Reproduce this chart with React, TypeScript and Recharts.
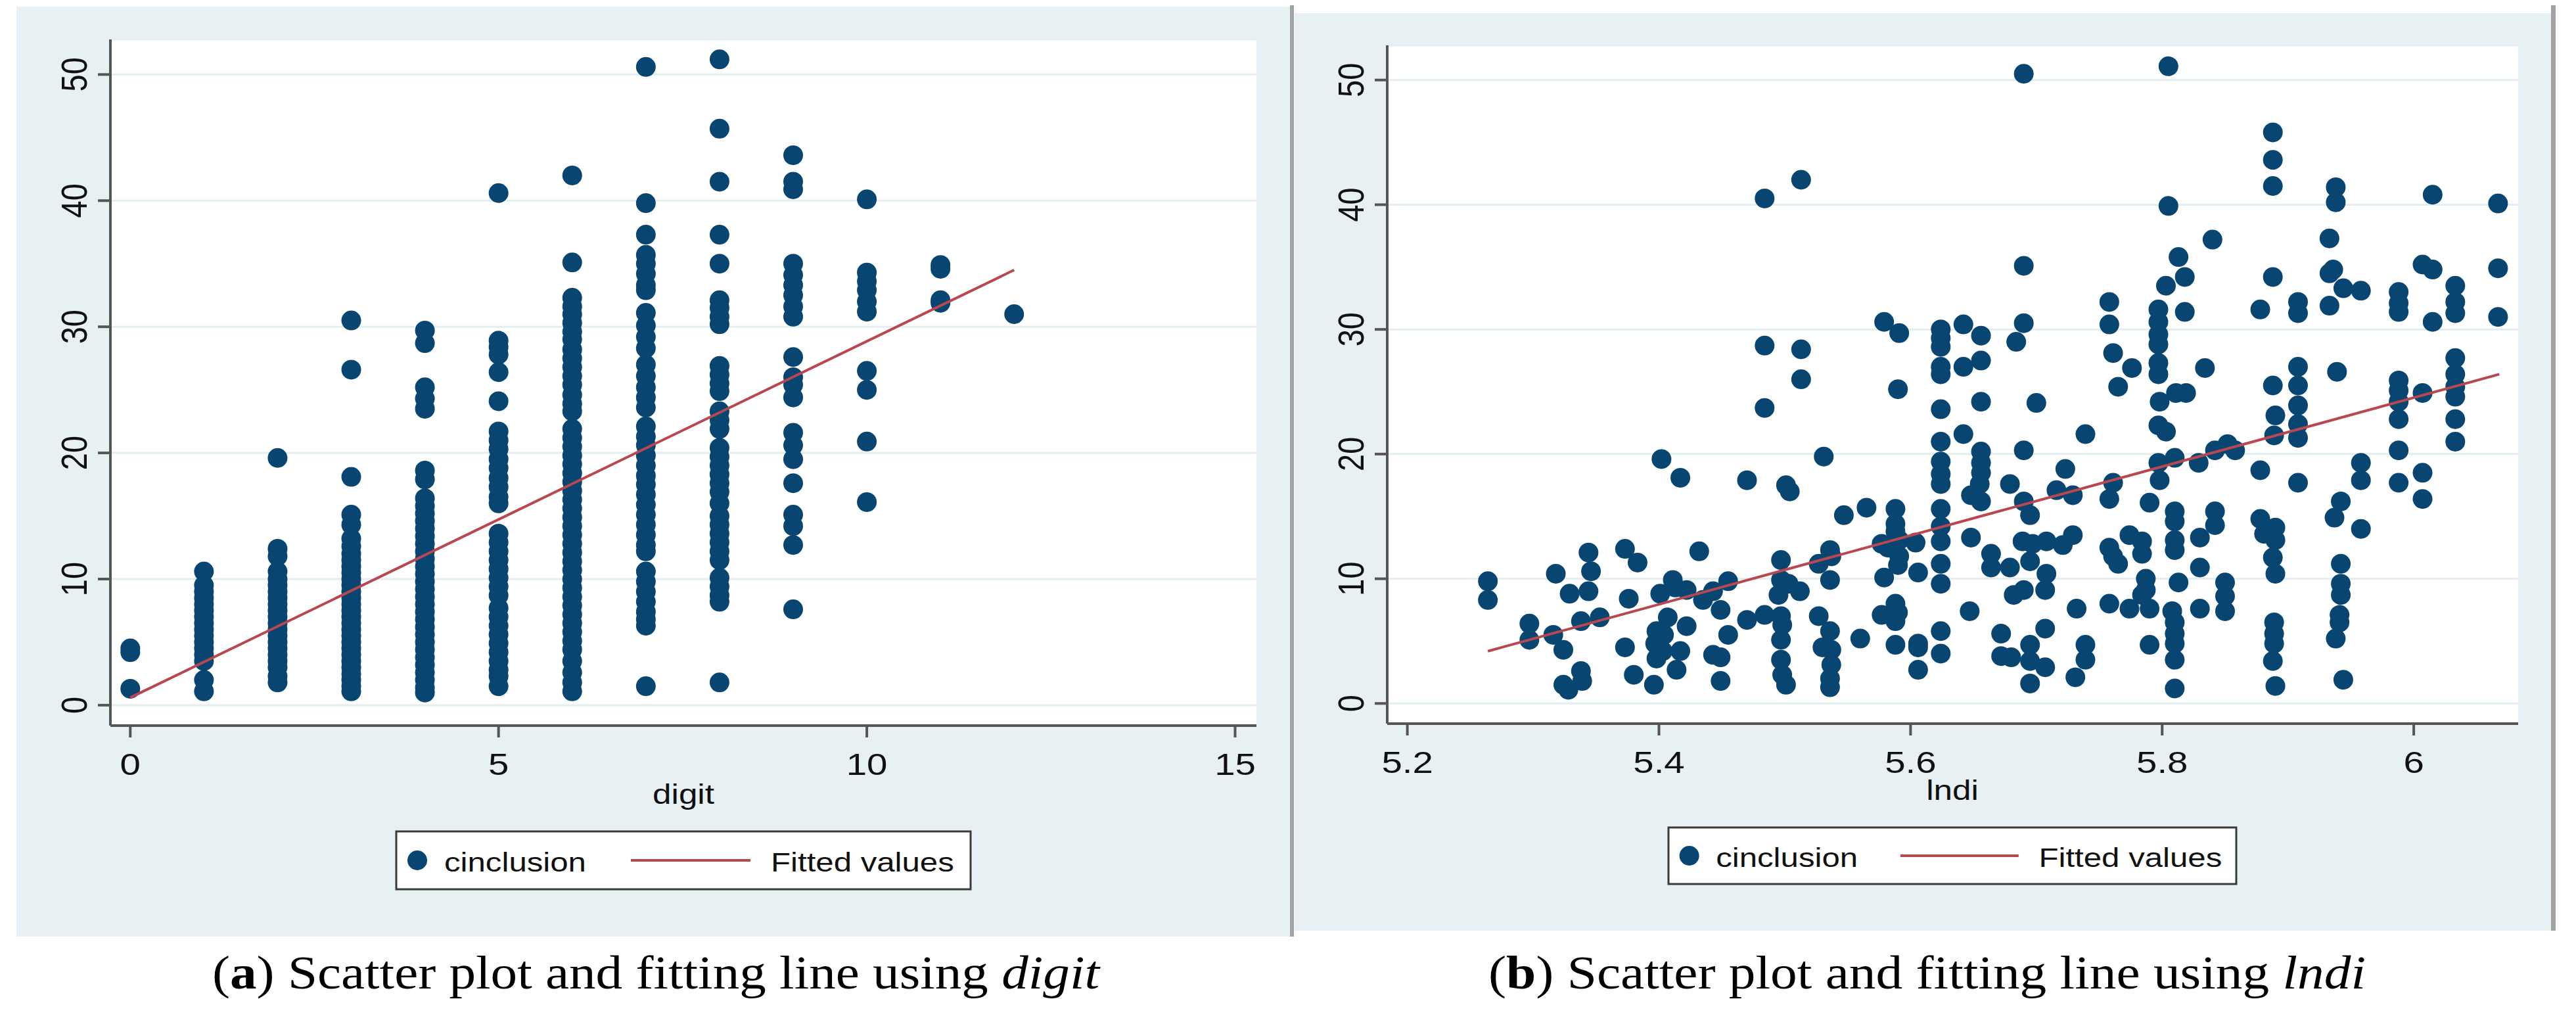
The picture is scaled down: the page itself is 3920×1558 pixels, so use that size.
import React from 'react';
import { ComposedChart, Scatter, XAxis, YAxis, CartesianGrid } from 'recharts';

// ---------- data : panel (a) cinclusion by digit ----------
const digit0 = [4.5, 4.2, 1.3];
const digit1 = [10.6, 9.5, 9.0, 8.5, 8.0, 7.5, 7.0, 6.5, 6.0, 5.5, 5.0, 4.5, 4.0, 3.5, 2.0, 1.1];
const digit2 = [19.6, 12.4, 11.8, 10.6, 10.0, 9.5, 9.0, 8.5, 8.0, 7.5, 7.0, 6.5, 6.0, 5.5, 5.0, 4.5, 4.0, 3.5, 3.0, 2.3, 1.8];
const digit3 = [30.5, 26.6, 18.1, 15.1, 14.3, 13.2, 12.6, 12.0, 11.5, 11.0, 10.5, 10.0, 9.5, 9.0, 8.5, 8.0, 7.5, 7.0, 6.5, 6.0, 5.5, 5.0, 4.5, 4.0, 3.5, 3.0, 2.5, 2.0, 1.5, 1.1];
const digit4 = [29.7, 28.7, 25.2, 24.3, 23.5, 18.6, 17.9, 16.4, 15.8, 15.2, 14.6, 14.0, 13.4, 12.8, 12.2, 11.6, 11.0, 10.4, 9.8, 9.2, 8.6, 8.0, 7.4, 6.8, 6.2, 5.6, 5.0, 4.4, 3.8, 3.2, 2.6, 2.0, 1.4, 1.0];
const digit5 = [40.6, 28.9, 28.4, 27.8, 26.4, 24.1, 21.7, 21.0, 20.3, 19.5, 18.8, 18.0, 17.3, 16.5, 16.0, 13.6, 12.9, 12.2, 11.5, 10.8, 10.1, 9.4, 8.7, 7.7, 7.0, 6.3, 5.6, 4.9, 4.2, 3.5, 2.8, 2.3, 1.5];
const digit6 = [42.0, 35.1, 32.3, 31.6, 31.0, 30.3, 29.6, 29.0, 28.2, 27.5, 26.8, 26.1, 25.4, 24.6, 23.9, 23.3, 21.9, 21.2, 20.5, 19.8, 19.1, 18.4, 17.7, 17.0, 16.3, 15.6, 14.9, 14.2, 13.5, 12.8, 12.1, 11.4, 10.7, 10.0, 9.3, 8.6, 7.9, 7.2, 6.5, 5.8, 5.1, 4.4, 3.5, 2.6, 1.8, 1.1];
const digit7 = [50.6, 39.8, 37.3, 35.7, 35.0, 34.2, 33.3, 32.9, 31.1, 30.1, 29.2, 28.3, 27.0, 26.1, 25.2, 24.4, 23.6, 22.1, 21.3, 20.6, 19.8, 19.0, 18.2, 17.5, 16.7, 15.9, 15.1, 14.3, 13.5, 12.7, 12.2, 10.6, 9.8, 9.0, 8.2, 7.4, 6.8, 6.3, 1.5];
const digit8 = [51.2, 45.7, 41.5, 37.3, 35.0, 32.1, 31.5, 30.8, 30.2, 26.9, 26.2, 25.5, 24.9, 23.3, 22.6, 21.9, 20.4, 19.7, 19.0, 18.3, 17.6, 16.9, 16.0, 15.0, 14.3, 13.6, 12.9, 12.2, 11.5, 10.1, 9.4, 8.7, 8.2, 1.8];
const digit9 = [43.6, 41.5, 40.9, 35.0, 34.1, 33.3, 32.5, 31.6, 30.8, 27.6, 26.0, 25.4, 24.4, 21.6, 20.6, 19.5, 17.6, 15.1, 14.2, 12.7, 7.6];
const digit10 = [40.1, 34.3, 33.6, 32.9, 32.0, 31.2, 26.5, 25.0, 20.9, 16.1];
const digit11 = [34.9, 34.6, 32.1, 31.9];
const digit12 = [31.0];
const digitColumns = [digit0, digit1, digit2, digit3, digit4, digit5, digit6, digit7, digit8, digit9, digit10, digit11, digit12];

const digitFitX = [0, 12];
const digitFitY = [0.6, 34.5];
const digitTicks = [0, 5, 10, 15];

// ---------- data : panel (b) cinclusion by lndi ----------
const lndiLow: [number, number][] = [
  [5.264, 9.8], [5.264, 8.3], [5.297, 6.4], [5.297, 5.1], [5.318, 10.4], [5.316, 5.5], [5.324, 4.3],
  [5.329, 8.8], [5.324, 1.5], [5.328, 1.1], [5.338, 6.6], [5.338, 2.6], [5.339, 1.8], [5.344, 12.1],
  [5.346, 10.6], [5.344, 9.0], [5.353, 6.9], [5.373, 12.4], [5.383, 11.3], [5.376, 8.4], [5.373, 4.5],
  [5.380, 2.3], [5.396, 1.5], [5.402, 19.6], [5.417, 18.1], [5.398, 5.8], [5.404, 5.5], [5.397, 4.8],
  [5.403, 4.2], [5.398, 3.6], [5.401, 8.8], [5.411, 9.9], [5.413, 9.3], [5.422, 9.1], [5.407, 6.9],
  [5.417, 4.2], [5.414, 2.7], [5.422, 6.2], [5.432, 12.2], [5.435, 8.3], [5.443, 9.0], [5.449, 7.5],
  [5.455, 9.8], [5.455, 5.5], [5.443, 3.9], [5.449, 3.7], [5.449, 1.8], [5.470, 17.9], [5.470, 6.7],
];
const lndiMid: [number, number][] = [
  [5.484, 40.5], [5.484, 28.7], [5.484, 23.7], [5.484, 7.1], [5.497, 11.5], [5.501, 17.5], [5.504, 17.0],
  [5.497, 9.9], [5.503, 9.6], [5.495, 8.7], [5.512, 9.0], [5.497, 7.0], [5.498, 6.3], [5.497, 5.1],
  [5.497, 3.5], [5.498, 2.3], [5.501, 1.5], [5.513, 42.0], [5.513, 28.4], [5.513, 26.0], [5.531, 19.8],
  [5.527, 11.2], [5.536, 12.3], [5.537, 11.8], [5.536, 9.9], [5.527, 7.0], [5.536, 5.8], [5.530, 4.5],
  [5.537, 4.3], [5.537, 3.1], [5.536, 2.0], [5.536, 1.3], [5.547, 15.1], [5.565, 15.7], [5.560, 5.2],
  [5.579, 30.6], [5.591, 29.7], [5.590, 25.2], [5.588, 15.6], [5.588, 14.4], [5.588, 13.8], [5.591, 13.1],
  [5.577, 12.8], [5.582, 12.5], [5.591, 11.8], [5.590, 11.1], [5.579, 10.1], [5.604, 12.9], [5.606, 10.5],
  [5.577, 7.1], [5.588, 8.0], [5.590, 7.3], [5.588, 6.6], [5.588, 4.7], [5.606, 4.8], [5.606, 4.5],
  [5.606, 2.7],
  [5.624, 30.0], [5.624, 29.3], [5.624, 28.6], [5.624, 27.0], [5.624, 26.4], [5.624, 23.6], [5.624, 21.0],
  [5.624, 19.4], [5.624, 18.4], [5.624, 17.6], [5.624, 15.6], [5.624, 14.2], [5.624, 13.0], [5.624, 11.2],
  [5.624, 9.6], [5.624, 5.8], [5.624, 4.0],
  [5.642, 30.4], [5.656, 29.5], [5.656, 27.5], [5.642, 27.0], [5.656, 24.2], [5.642, 21.6], [5.656, 20.2],
  [5.656, 19.3], [5.656, 18.5], [5.655, 17.6], [5.648, 16.7], [5.656, 16.2], [5.679, 17.6],
  [5.690, 50.5], [5.690, 35.1], [5.690, 30.5], [5.684, 29.0], [5.690, 20.3], [5.700, 24.1], [5.690, 16.2],
  [5.695, 15.1], [5.648, 13.3], [5.664, 12.0], [5.664, 10.9], [5.679, 10.9], [5.689, 13.0], [5.697, 12.8],
  [5.708, 13.0], [5.721, 12.7], [5.729, 13.5], [5.695, 11.4], [5.708, 10.4], [5.707, 9.1], [5.690, 9.1],
  [5.682, 8.7], [5.647, 7.4], [5.672, 5.6], [5.672, 3.8], [5.680, 3.7], [5.695, 4.7], [5.695, 3.4],
  [5.707, 6.0], [5.707, 2.9], [5.695, 1.6], [5.731, 2.1], [5.739, 4.7], [5.739, 3.5], [5.732, 7.6],
  [5.716, 17.1], [5.729, 16.7], [5.723, 18.8], [5.739, 21.6],
];
const lndiHigh: [number, number][] = [
  [5.758, 32.2], [5.758, 30.4], [5.761, 28.1], [5.776, 26.9], [5.765, 25.4], [5.761, 17.7], [5.758, 16.4],
  [5.758, 12.5], [5.761, 11.8], [5.765, 11.2], [5.758, 8.0], [5.774, 13.5], [5.784, 13.0], [5.784, 12.0],
  [5.774, 7.6], [5.787, 10.0], [5.787, 9.1], [5.784, 8.7], [5.790, 7.6], [5.790, 4.7],
  [5.797, 31.6], [5.797, 30.6], [5.797, 29.6], [5.797, 28.8], [5.805, 39.9], [5.805, 51.1], [5.813, 35.8],
  [5.818, 34.2], [5.803, 33.5], [5.818, 31.4], [5.797, 27.3], [5.797, 26.4], [5.798, 24.2], [5.797, 22.3],
  [5.803, 21.8], [5.797, 19.3], [5.810, 19.7], [5.811, 24.9], [5.819, 24.9], [5.798, 17.9], [5.790, 16.1],
  [5.810, 15.4], [5.810, 14.6], [5.810, 13.1], [5.810, 12.3], [5.813, 9.7], [5.808, 7.4], [5.810, 6.5],
  [5.810, 5.6], [5.810, 4.8], [5.810, 3.5], [5.810, 1.2],
  [5.829, 19.3], [5.840, 37.2], [5.834, 26.9], [5.842, 20.3], [5.852, 20.8], [5.858, 20.3], [5.830, 13.3],
  [5.842, 15.4], [5.842, 14.3], [5.830, 10.9], [5.850, 9.7], [5.850, 8.6], [5.850, 7.4], [5.830, 7.6],
  [5.878, 31.6], [5.878, 18.7], [5.888, 45.8], [5.888, 43.6], [5.888, 41.5], [5.888, 34.2], [5.888, 25.5],
  [5.890, 23.1], [5.889, 21.5], [5.878, 14.8], [5.881, 13.6], [5.890, 14.1], [5.890, 13.1], [5.888, 11.7],
  [5.890, 10.4], [5.889, 6.5], [5.889, 5.6], [5.889, 4.8], [5.888, 3.4], [5.890, 1.4],
  [5.908, 32.2], [5.908, 31.3], [5.908, 27.0], [5.908, 25.5], [5.908, 23.9], [5.908, 22.4], [5.908, 21.3],
  [5.908, 17.7], [5.938, 41.4], [5.938, 40.2], [5.933, 37.3], [5.936, 34.8], [5.933, 34.5], [5.944, 33.3],
  [5.933, 31.9], [5.958, 33.1], [5.939, 26.6], [5.958, 19.3], [5.958, 17.9], [5.942, 16.2], [5.937, 14.9],
  [5.958, 14.0], [5.942, 11.2], [5.942, 9.6], [5.942, 8.7], [5.941, 7.1], [5.941, 6.5], [5.938, 5.2],
  [5.944, 1.9],
  [5.988, 33.0], [5.988, 32.1], [5.988, 31.4], [5.988, 25.9], [5.988, 25.1], [5.988, 24.2], [5.988, 22.8],
  [5.988, 20.3], [5.988, 17.7], [6.007, 35.2], [6.015, 34.8], [6.015, 40.8], [6.015, 30.6], [6.007, 24.9],
  [6.007, 18.5], [6.007, 16.4], [6.033, 33.5], [6.033, 32.2], [6.033, 31.3], [6.033, 27.7], [6.033, 26.4],
  [6.033, 25.4], [6.033, 24.6], [6.033, 22.8], [6.033, 21.0], [6.067, 40.1], [6.067, 34.9], [6.067, 31.0],
];

const lndiFitX = [5.264, 6.068];
const lndiFitY = [4.19, 26.4];
const lndiTicks = [5.2, 5.4, 5.6, 5.8, 6];

const yTicks = [0, 10, 20, 30, 40, 50];

// ---------- styling ----------
const SANS = "'Liberation Sans', Arial, Helvetica, sans-serif";
const SERIF = "'Liberation Serif', 'Times New Roman', serif";
const BG = '#e7f0f2';
const GRID = '#e3eef1';
const DOT = '#084671';
const FIT = '#b8474f';
const AXIS = '#555555';
const TXT = '#111111';
const SX = 1.2; // horizontal stretch of the chart lettering

const digitData = digitColumns.flatMap((vals, d) => vals.map((v) => ({ x: d, y: v })));
const digitFit = digitFitX.map((x, i) => ({ x, y: digitFitY[i] }));
const lndiData = [...lndiLow, ...lndiMid, ...lndiHigh].map(([x, y]) => ({ x, y }));
const lndiFit = lndiFitX.map((x, i) => ({ x, y: lndiFitY[i] }));

const DotShape = (p: any) =>
  p.cx == null || p.cy == null ? <g /> : <circle cx={p.cx} cy={p.cy} r={15} fill={DOT} />;
const NoShape = () => <g />;

const XTick = (p: any) => (
  <text
    transform={`translate(${p.x},${p.y + 57}) scale(${SX},1)`}
    textAnchor="middle"
    fontFamily={SANS}
    fontSize={47}
    fill={TXT}
  >
    {String(p.payload.value)}
  </text>
);

const YTick = (p: any) => (
  <text
    transform={`translate(${p.x},${p.y}) scale(${SX},1) rotate(-90)`}
    textAnchor="middle"
    fontFamily={SANS}
    fontSize={47}
    fill={TXT}
  >
    {String(p.payload.value)}
  </text>
);

type Geo = { bx: number; by: number; bw: number; bh: number; pl: number; pt: number; pr: number; pb: number };

function Panel(props: {
  geo: Geo;
  data: { x: number; y: number }[];
  fit: { x: number; y: number }[];
  xDomain: [number, number];
  xTicks: number[];
}) {
  const { geo, data, fit, xDomain, xTicks } = props;
  const XH = 120;
  const margin = {
    top: geo.pt - geo.by,
    right: geo.bx + geo.bw - geo.pr,
    left: 0,
    bottom: geo.by + geo.bh - geo.pb - XH,
  };
  return (
    <div style={{ position: 'absolute', left: geo.bx, top: geo.by, width: geo.bw, height: geo.bh, background: BG }}>
      <ComposedChart width={geo.bw} height={geo.bh} margin={margin}>
        <CartesianGrid horizontal vertical={false} fill="#ffffff" stroke={GRID} strokeWidth={3} />
        <XAxis
          type="number"
          dataKey="x"
          domain={xDomain}
          allowDataOverflow
          ticks={xTicks}
          interval={0}
          height={XH}
          tickSize={18}
          tickMargin={0}
          tick={<XTick />}
          tickLine={{ stroke: AXIS, strokeWidth: 4 }}
          axisLine={{ stroke: AXIS, strokeWidth: 4 }}
        />
        <YAxis
          type="number"
          dataKey="y"
          domain={[-1.62, 52.78]}
          allowDataOverflow
          ticks={yTicks}
          interval={0}
          width={geo.pl - geo.bx}
          tickSize={19}
          tickMargin={17}
          tick={<YTick />}
          tickLine={{ stroke: AXIS, strokeWidth: 4 }}
          axisLine={{ stroke: AXIS, strokeWidth: 4 }}
        />
        <Scatter data={data} fill={DOT} shape={DotShape} isAnimationActive={false} />
        <Scatter
          data={fit}
          fill={FIT}
          stroke={FIT}
          line={{ stroke: FIT, strokeWidth: 4 }}
          shape={NoShape}
          isAnimationActive={false}
        />
      </ComposedChart>
    </div>
  );
}

function LegendBox(props: { x: number; y: number; w: number; h: number }) {
  const { x, y, w, h } = props;
  const k = w / 874;
  const cy = y + h / 2;
  const base = cy + 17;
  return (
    <g>
      <rect x={x} y={y} width={w} height={h} fill="#ffffff" stroke="#3a3a3a" strokeWidth={3} />
      <circle cx={x + 32 * k} cy={cy} r={15} fill={DOT} />
      <text transform={`translate(${x + 73 * k},${base}) scale(${SX},1)`} fontFamily={SANS} fontSize={41} fill={TXT}>
        cinclusion
      </text>
      <line x1={x + 357 * k} x2={x + 539 * k} y1={cy} y2={cy} stroke={FIT} strokeWidth={4} />
      <text transform={`translate(${x + 570 * k},${base}) scale(${SX},1)`} fontFamily={SANS} fontSize={41} fill={TXT}>
        Fitted values
      </text>
    </g>
  );
}

const leftGeo: Geo = { bx: 25, by: 10, bw: 1938, bh: 1415, pl: 168, pt: 60, pr: 1912, pb: 1104 };
const rightGeo: Geo = { bx: 1970, by: 20, bw: 1912, bh: 1396, pl: 2111, pt: 69, pr: 3832, pb: 1101 };

export default function App() {
  return (
    <div style={{ position: 'absolute', left: 0, top: 0, width: 3920, height: 1558, background: '#ffffff', overflow: 'hidden' }}>
      <Panel geo={leftGeo} data={digitData} fit={digitFit} xDomain={[-0.27, 15.29]} xTicks={digitTicks} />
      <Panel geo={rightGeo} data={lndiData} fit={lndiFit} xDomain={[5.184, 6.083]} xTicks={lndiTicks} />
      <svg width={3920} height={1558} style={{ position: 'absolute', left: 0, top: 0, pointerEvents: 'none' }}>
        <rect x={1963} y={8} width={6} height={1417} fill="#a3a3a3" />
        <rect x={3882} y={8} width={7} height={1408} fill="#a3a3a3" />
        <text transform={`translate(1040,1223) scale(1.22,1)`} textAnchor="middle" fontFamily={SANS} fontSize={42} fill={TXT}>
          digit
        </text>
        <text transform={`translate(2971,1217) scale(1.22,1)`} textAnchor="middle" fontFamily={SANS} fontSize={42} fill={TXT}>
          lndi
        </text>
        <LegendBox x={603} y={1265} w={874} h={88} />
        <LegendBox x={2539} y={1259} w={864} h={86} />
        <text x={323} y={1504} fontFamily={SERIF} fontSize={72} fill="#000" textLength={1350} lengthAdjust="spacingAndGlyphs">
          (<tspan fontWeight="bold">a</tspan>) Scatter plot and fitting line using <tspan fontStyle="italic">digit</tspan>
        </text>
        <text x={2265} y={1504} fontFamily={SERIF} fontSize={72} fill="#000" textLength={1335} lengthAdjust="spacingAndGlyphs">
          (<tspan fontWeight="bold">b</tspan>) Scatter plot and fitting line using <tspan fontStyle="italic">lndi</tspan>
        </text>
      </svg>
    </div>
  );
}
